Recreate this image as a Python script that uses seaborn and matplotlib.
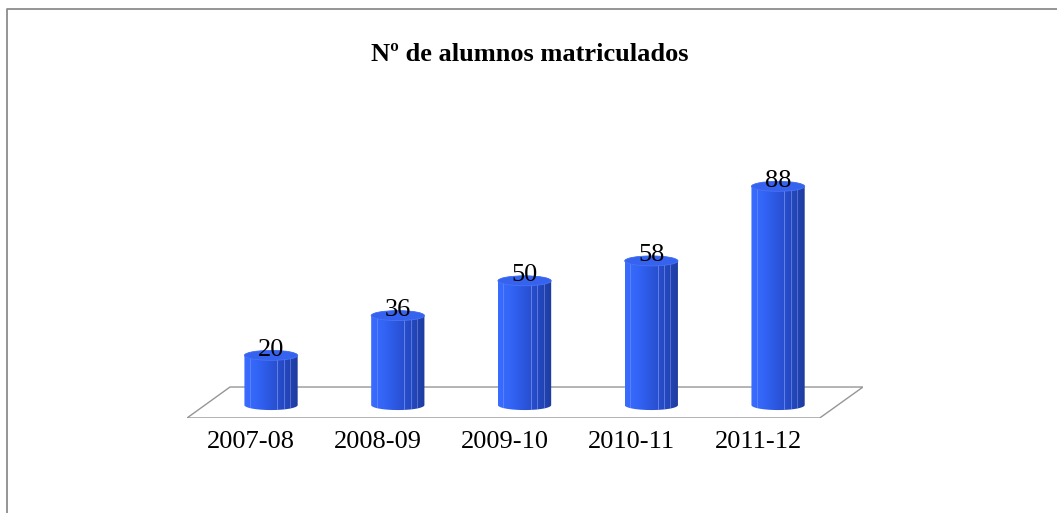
import numpy as np
import pandas as pd
import matplotlib
matplotlib.use("Agg")
import matplotlib.pyplot as plt
import seaborn as sns
from matplotlib.path import Path
from matplotlib.patches import PathPatch, Ellipse, Polygon
from matplotlib.lines import Line2D
from matplotlib.colors import LinearSegmentedColormap
import matplotlib.transforms as mtransforms

# ---- data ----
title = "Nº de alumnos matriculados"
categories = ["2007-08", "2008-09", "2009-10", "2010-11", "2011-12"]
values = [20, 36, 50, 58, 88]

df = pd.DataFrame({"curso": categories, "alumnos": values})

sns.set_theme(style="white")
plt.rcParams["font.family"] = ["Liberation Serif", "DejaVu Serif"]
plt.rcParams["text.color"] = "black"
plt.rcParams["xtick.color"] = "black"

W, H = 1057, 513
fig = plt.figure(figsize=(W / 100, H / 100), dpi=100)
fig.patch.set_facecolor("white")

# axes placement (pixel-based layout)
left_px, right_px = 187, 863
bottom_px, top_px = 418, 156.5
ax = fig.add_axes([left_px / W, 1 - bottom_px / H,
                   (right_px - left_px) / W, (bottom_px - top_px) / H])

bar_w = 0.42
sns.barplot(data=df, x="curso", y="alumnos", ax=ax, width=bar_w,
            color="#2f5be8", saturation=1, edgecolor="none")
ax.set_xlim(-0.663, 4.67)
ax.set_ylim(-5.2, 100)
ax.set_facecolor("none")
for s in ax.spines.values():
    s.set_visible(False)
ax.set_yticks([])
ax.set_xlabel("")
ax.set_ylabel("")

# floor parallelogram (decoration, axes fraction)
floor = Polygon([(0, 0), (0.936, 0), (1, 0.1185), (0.0636, 0.1185)],
                closed=True, transform=ax.transAxes, facecolor="white",
                edgecolor="#969696", linewidth=1.0, zorder=0.5)
ax.add_patch(floor)

cmap = LinearSegmentedColormap.from_list(
    "cyl", ["#3a6cff", "#3264f5", "#2b55dc", "#2448c0", "#1e3c9e"])
grad = np.linspace(0, 1, 256).reshape(1, -1)

ell_h = 4.0  # ellipse height in data units
for p in list(ax.patches):
    if isinstance(p, Polygon):
        continue
    x0 = p.get_x()
    w = p.get_width()
    h = p.get_height()
    if w <= 0 or h <= 0:
        continue
    x1 = x0 + w
    xc = x0 + w / 2
    p.set_visible(False)
    t1 = np.linspace(np.pi, 2 * np.pi, 40)
    bx = xc + (w / 2) * np.cos(t1)
    by = 0 + (ell_h / 2) * np.sin(t1)
    t2 = np.linspace(0, np.pi, 40)
    tx = xc + (w / 2) * np.cos(t2)
    ty = h + (ell_h / 2) * np.sin(t2)
    verts = [(x0, h)] + list(zip(bx, by)) + [(x1, h)] + list(zip(tx, ty))
    codes = [Path.MOVETO] + [Path.LINETO] * (len(verts) - 1)
    path = Path(verts + [verts[0]], codes + [Path.CLOSEPOLY])
    clip = PathPatch(path, facecolor="none", edgecolor="none",
                     transform=ax.transData)
    ax.add_patch(clip)
    im = ax.imshow(grad, cmap=cmap, aspect="auto",
                   extent=[x0, x1, -ell_h, h + ell_h], zorder=2,
                   interpolation="bilinear")
    im.set_clip_path(clip)
    for f, a in [(0.1, 0.35), (0.62, 0.5), (0.74, 0.45), (0.86, 0.4)]:
        xs = x0 + f * w
        ln = Line2D([xs, xs], [-ell_h, h + ell_h], color="#9fb4ff",
                    linewidth=0.7, alpha=a, zorder=3)
        ax.add_line(ln)
        ln.set_clip_path(clip)
    top = Ellipse((xc, h), w, ell_h, facecolor="#3562ee",
                  edgecolor="#4a74f5", linewidth=0.6, zorder=4)
    ax.add_patch(top)
    ax.annotate(f"{int(round(h))}", (xc, h), xytext=(0, 4),
                textcoords="offset points", ha="center", va="center",
                fontsize=19, color="black", zorder=5)

ax.set_xticks(range(len(categories)))
ax.set_xticklabels(categories, fontsize=19, color="black")
ax.tick_params(axis="x", length=0, pad=9)
shift = mtransforms.ScaledTranslation(-20 / 100, 0, fig.dpi_scale_trans)
for lab in ax.get_xticklabels():
    lab.set_transform(lab.get_transform() + shift)

fig.text(530 / W, 1 - 55 / H, title, ha="center", va="center",
         fontsize=19, fontweight="bold", color="black")

# chart-area border (top and left visible)
bx_ = 7 / W
by_ = 1 - 8.5 / H
fig.add_artist(Line2D([bx_, bx_, 1.0], [0, by_, by_], transform=fig.transFigure,
                      color="#8c8c8c", linewidth=1.3))

fig.savefig("out.png", dpi=100, facecolor="white")
